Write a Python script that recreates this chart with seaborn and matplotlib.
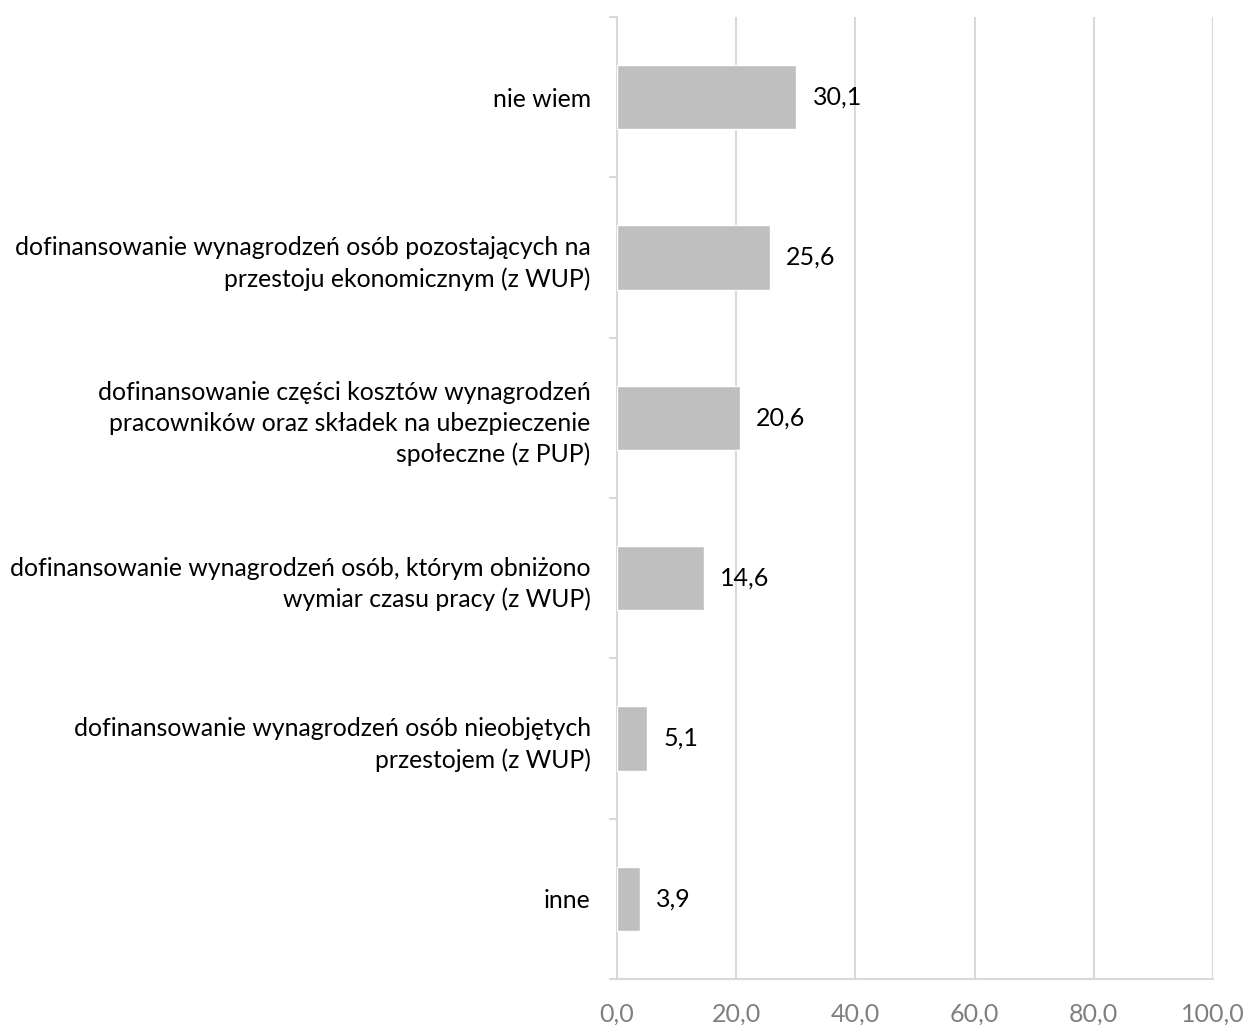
import matplotlib
matplotlib.use("Agg")
import matplotlib.pyplot as plt
import seaborn as sns
import pandas as pd
from matplotlib.ticker import FixedLocator

# data
categories = [
    "nie wiem",
    "dofinansowanie wynagrodzeń osób pozostających na\nprzestoju ekonomicznym (z WUP)",
    "dofinansowanie części kosztów wynagrodzeń\npracowników oraz składek na ubezpieczenie\nspołeczne (z PUP)",
    "dofinansowanie wynagrodzeń osób, którym obniżono\nwymiar czasu pracy (z WUP)",
    "dofinansowanie wynagrodzeń osób nieobjętych\nprzestojem (z WUP)",
    "inne",
]
values = [30.1, 25.6, 20.6, 14.6, 5.1, 3.9]
x_ticks = [0, 20, 40, 60, 80, 100]

df = pd.DataFrame({"kategoria": categories, "wartosc": values})

sns.set_theme(style="white")
plt.rcParams["font.family"] = ["Lato", "DejaVu Sans"]

grid_col = "#d9d9d9"

fig = plt.figure(figsize=(12.47, 10.25), dpi=100)
ax = fig.add_axes([0.4948, 0.0449, 0.4779, 0.9385])

sns.barplot(data=df, x="wartosc", y="kategoria", orient="h", color="#bfbfbf",
            saturation=1, width=0.4, ax=ax, zorder=3)

# value labels
for i, v in enumerate(values):
    ax.text(v + 2.7, i, f"{v:.1f}".replace(".", ","), va="center", ha="left",
            fontsize=18, color="black")

ax.set_xlim(0, 100)
ax.set_ylim(len(categories) - 0.5, -0.5)
ax.set_xticks(x_ticks)
ax.set_xticklabels([f"{t:.1f}".replace(".", ",") for t in x_ticks],
                   fontsize=18, color="#7f7f7f")
ax.tick_params(axis="x", length=6, width=1.5, color=grid_col, pad=11)

ax.set_yticks(range(len(categories)))
ax.set_yticklabels(categories, fontsize=17.8, color="black", linespacing=1.4)
ax.tick_params(axis="y", which="major", length=0, pad=19)
ax.yaxis.set_minor_locator(FixedLocator([i - 0.5 for i in range(len(categories) + 1)]))
ax.tick_params(axis="y", which="minor", length=6, width=1.5, color=grid_col, left=True)

ax.xaxis.grid(True, color=grid_col, linewidth=1.5, zorder=0)
ax.set_axisbelow(True)
for s in ["top", "right"]:
    ax.spines[s].set_visible(False)
for s in ["left", "bottom"]:
    ax.spines[s].set_color(grid_col)
    ax.spines[s].set_linewidth(1.5)

ax.set_xlabel("")
ax.set_ylabel("")

fig.savefig("out.png", dpi=100)
